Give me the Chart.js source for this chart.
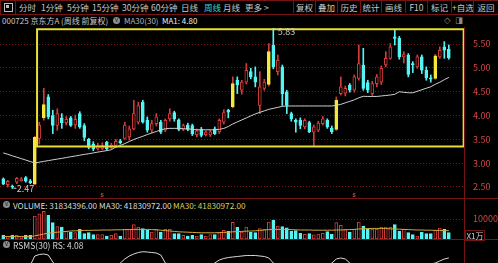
<!DOCTYPE html>
<html>
<head>
<meta charset="utf-8">
<title>京东方A 周线</title>
<script src="https://cdn.jsdelivr.net/npm/chart.js@4.4.1/dist/chart.umd.min.js"></script>
<style>
  html, body { margin: 0; padding: 0; background: #000; }
  body { position: relative; width: 498px; height: 263px; overflow: hidden;
         font-family: "Noto Sans CJK SC", "DejaVu Sans", sans-serif; color: #c8c8c8; }
  .txt { position: absolute; white-space: nowrap; line-height: 1; font-size: 8.5px; }
  .hline { position: absolute; left: 0; width: 498px; height: 1px; background: #761414; }
  .vline { position: absolute; width: 1px; background: #761414; }
  .btn { position: absolute; top: 1px; height: 12px; border-left: 1px solid #761414;
         text-align: center; line-height: 12px; font-size: 8.5px; white-space: nowrap; }
  .knob { position: absolute; width: 7px; height: 7px; border-radius: 50%; background: #8c8c8c;
          color: #222; font-size: 6px; line-height: 6px; text-align: center; }
  canvas { position: absolute; left: 0; }
</style>
</head>
<body>
<div class="hline" style="top:0"></div>
<div class="hline" style="top:14px"></div>
<div class="vline" style="left:0;top:0;height:15px"></div>
<div class="vline" style="left:15px;top:0;height:15px"></div>
<div style="position:absolute;left:4px;top:3px;width:7px;height:7px;border:1px solid #bdbdbd"></div>
<div style="position:absolute;left:6px;top:5px;width:3px;height:3px;background:#bdbdbd"></div>
<div id="menu"></div>

<div class="txt" style="left:2px;top:17px;font-size:8px">000725 京东方A (周线 前复权)</div>
<div class="knob" style="left:113px;top:17px">v</div>
<div class="txt" style="left:124px;top:17px;font-size:8px;color:#b4b4b4">MA30(30)</div>
<div class="txt" style="left:162px;top:17px;font-size:8px;color:#ececec">MA1: 4.80</div>
<div class="txt" style="left:444px;top:16px;color:#8c8c8c;font-family:'DejaVu Sans'">◇</div>
<div class="txt" style="left:455px;top:16px;color:#8c8c8c;font-family:'DejaVu Sans'">◨</div>

<canvas id="priceChart" width="498" height="171" style="top:27px"></canvas>
<div class="hline" style="top:198px"></div>

<div class="knob" style="left:3px;top:201px">v</div>
<div class="txt" style="left:13px;top:200.5px;font-size:8.2px;color:#dadada">VOLUME: 31834396.00</div>
<div class="txt" style="left:99px;top:200.5px;font-size:8.2px;color:#dadada">MA30: 41830972.00</div>
<div class="txt" style="left:173px;top:200.5px;font-size:8.2px;color:#d8cc5c">MA30: 41830972.00</div>
<canvas id="volumeChart" width="498" height="31" style="top:208px"></canvas>
<div class="hline" style="top:239px"></div>
<div class="txt" style="left:465px;top:229.5px;width:18px;height:9px;border:1px solid #761414;text-align:center;line-height:9px;font-size:8px;color:#d0d0d0">X1万</div>

<div class="knob" style="left:3px;top:241px">v</div>
<div class="txt" style="left:13px;top:240.5px;font-size:8.5px;color:#d4d4d4">RSMS(30) RS: 4.08</div>
<canvas id="rsmsChart" width="498" height="32" style="top:248px"></canvas>

<div class="vline" style="left:464px;top:27px;height:236px"></div>

<script>
// Weekly OHLC, one entry per week (100 weeks)
const openPrice = [2.67, 2.55, 2.52, 2.60, 2.63, 2.70, 2.63, 2.56, 3.52, 3.95,
    4.39, 4.00, 3.79, 3.95, 3.85, 3.95, 3.80, 4.04, 3.79, 3.50,
    3.40, 3.30, 3.31, 3.44, 3.33, 3.37, 3.47, 3.52, 3.55, 3.72,
    3.86, 4.28, 3.90, 3.69, 3.83, 3.86, 3.69, 3.93, 4.06, 3.91,
    3.72, 3.80, 3.79, 3.60, 3.71, 3.60, 3.59, 3.72, 3.66, 3.86,
    4.11, 4.18, 4.74, 4.53, 4.70, 4.92, 4.81, 4.21, 4.57, 4.65,
    5.48, 4.92, 5.02, 4.49, 4.04, 3.90, 3.90, 3.76, 3.85, 3.65,
    3.69, 3.83, 3.90, 3.73, 3.71, 4.46, 4.47, 4.64, 4.53, 4.78,
    5.06, 4.69, 4.46, 4.67, 4.70, 5.06, 5.20, 5.65, 5.62, 5.23,
    5.27, 5.09, 5.02, 5.23, 4.95, 4.79, 4.78, 5.23, 5.44, 5.39];
const highPrice = [2.69, 2.64, 2.54, 2.70, 2.70, 2.72, 2.66, 3.56, 3.86, 4.57,
    4.44, 4.11, 4.14, 4.04, 3.98, 3.98, 4.01, 4.08, 3.83, 3.52,
    3.45, 3.42, 3.43, 3.46, 3.42, 3.50, 3.50, 3.86, 3.78, 4.32,
    4.28, 4.32, 3.97, 3.90, 4.04, 3.90, 3.93, 4.14, 4.09, 3.93,
    3.82, 3.84, 3.82, 3.72, 3.75, 3.68, 3.70, 3.76, 3.93, 4.12,
    4.13, 4.81, 4.81, 4.74, 5.09, 4.99, 5.02, 4.92, 4.76, 5.51,
    5.83, 5.27, 5.06, 4.53, 4.07, 3.93, 3.95, 3.93, 3.88, 3.80,
    3.88, 3.98, 3.93, 3.78, 4.39, 4.81, 4.62, 4.67, 4.85, 5.48,
    5.41, 4.74, 4.72, 4.86, 5.04, 5.34, 5.51, 5.80, 5.66, 5.34,
    5.30, 5.13, 5.27, 5.27, 5.02, 4.85, 5.28, 5.44, 5.55, 5.48];
const lowPrice = [2.55, 2.50, 2.47, 2.57, 2.62, 2.60, 2.57, 2.55, 3.40, 3.90,
    3.93, 3.62, 3.69, 3.73, 3.80, 3.77, 3.73, 3.73, 3.47, 3.30,
    3.26, 3.27, 3.28, 3.27, 3.30, 3.33, 3.40, 3.50, 3.48, 3.70,
    3.82, 3.84, 3.65, 3.64, 3.78, 3.62, 3.66, 3.88, 3.88, 3.68,
    3.68, 3.68, 3.58, 3.55, 3.55, 3.57, 3.56, 3.60, 3.62, 3.82,
    3.95, 4.16, 4.46, 4.45, 4.66, 4.77, 4.60, 4.04, 4.53, 4.62,
    4.98, 4.85, 4.21, 4.04, 3.88, 3.65, 3.72, 3.72, 3.64, 3.37,
    3.66, 3.80, 3.73, 3.62, 3.69, 4.43, 4.41, 4.49, 4.49, 4.74,
    4.53, 4.48, 4.42, 4.60, 4.65, 5.02, 5.18, 5.48, 5.18, 5.10,
    4.81, 4.90, 4.99, 4.88, 4.74, 4.70, 4.76, 5.20, 5.20, 5.18];
const closePrice = [2.56, 2.62, 2.50, 2.68, 2.67, 2.62, 2.59, 3.54, 3.80, 4.23,
    3.97, 3.79, 4.04, 3.85, 3.92, 3.79, 3.92, 3.76, 3.54, 3.33,
    3.30, 3.36, 3.37, 3.30, 3.38, 3.46, 3.43, 3.80, 3.72, 4.04,
    4.21, 3.86, 3.69, 3.83, 3.97, 3.65, 3.90, 4.04, 3.93, 3.71,
    3.79, 3.71, 3.62, 3.68, 3.58, 3.65, 3.66, 3.62, 3.90, 4.06,
    4.07, 4.67, 4.64, 4.70, 4.95, 4.81, 4.70, 4.60, 4.70, 5.34,
    5.02, 5.16, 4.46, 4.21, 3.93, 3.86, 3.79, 3.90, 3.66, 3.76,
    3.84, 3.93, 3.76, 3.66, 4.32, 4.60, 4.57, 4.53, 4.81, 5.09,
    4.57, 4.53, 4.67, 4.81, 4.99, 5.20, 5.44, 5.62, 5.23, 5.28,
    4.86, 5.06, 5.23, 4.95, 4.79, 4.76, 5.25, 5.37, 5.37, 5.21];
// MA30 of close (the white line)
const maPrice = [3.215, 3.186, 3.154, 3.125, 3.095, 3.065, 3.034, 3.004, 3.021, 3.038,
    3.053, 3.070, 3.086, 3.101, 3.118, 3.135, 3.150, 3.167, 3.184, 3.198,
    3.215, 3.232, 3.247, 3.264, 3.281, 3.338, 3.369, 3.411, 3.454, 3.496,
    3.532, 3.563, 3.601, 3.633, 3.665, 3.696, 3.722, 3.73, 3.73, 3.73,
    3.72, 3.72, 3.71, 3.70, 3.70, 3.70, 3.70, 3.70, 3.71, 3.728,
    3.770, 3.823, 3.865, 3.907, 3.949, 3.992, 4.034, 4.065, 4.097, 4.129,
    4.150, 4.171, 4.192, 4.198, 4.20, 4.20, 4.20, 4.20, 4.20, 4.20,
    4.20, 4.20, 4.20, 4.20, 4.213, 4.234, 4.266, 4.297, 4.329, 4.371,
    4.403, 4.40, 4.40, 4.40, 4.41, 4.42, 4.43, 4.445, 4.498, 4.487,
    4.477, 4.477, 4.508, 4.540, 4.572, 4.603, 4.656, 4.698, 4.751, 4.80];
// Weeks painted yellow on the original
const yellowWeeks = [7, 9, 51, 59, 74, 96];
// Little red markers under the candles
const markerWeeks = [22, 78];
// Yellow box drawn by the user (week index, price)
const boxWeeks = [7.5, 102.3];
const boxPrices = [3.35, 5.81];
const priceTicks = [2.5, 3.0, 3.5, 4.0, 4.5, 5.0, 5.5];

// Volume in 万 shares, and its MA30
const volume = [1800, 1500, 1800, 1800, 1500, 1800, 1800, 11500, 12600, 13800,
    11800, 8200, 6200, 6000, 3800, 3500, 3200, 4800, 2700, 3200,
    2200, 2200, 2200, 1500, 1800, 2700, 1500, 4800, 4800, 7200,
    6000, 5200, 4300, 3500, 4800, 3500, 4800, 4800, 2700, 2700,
    1800, 1500, 1800, 1500, 2200, 1500, 2200, 2200, 3200, 4300,
    3800, 8300, 5800, 3500, 6000, 3300, 3200, 5200, 4800, 8500,
    9400, 6500, 6200, 5600, 4000, 4200, 2800, 2300, 2700, 2100,
    2500, 2800, 3700, 2300, 8200, 6800, 4800, 3500, 4800, 8500,
    6500, 5200, 4800, 4800, 6000, 6000, 6000, 7200, 3800, 4800,
    3200, 2200, 1500, 3500, 2700, 2700, 4300, 5500, 4800, 3183];
const volumeMa = [1200, 1200, 1200, 1200, 1200, 1200, 1200, 1600, 2000, 2500,
    2900, 3200, 3400, 3600, 3800, 4000, 4100, 4200, 4300, 4300,
    4400, 4400, 4500, 4500, 4500, 4600, 4600, 4700, 4700, 4800,
    4800, 4800, 4800, 4700, 4600, 4400, 4200, 4000, 3800, 3600,
    3500, 3400, 3300, 3200, 3100, 3100, 3100, 3100, 3200, 3300,
    3400, 3600, 3700, 3800, 3900, 4000, 4100, 4300, 4500, 4700,
    4800, 4800, 4800, 4800, 4700, 4600, 4500, 4500, 4500, 4400,
    4400, 4400, 4400, 4400, 4500, 4500, 4600, 4700, 4800, 5000,
    5100, 5200, 5300, 5300, 5300, 5200, 5100, 5000, 4900, 4800,
    4700, 4600, 4500, 4500, 4400, 4400, 4300, 4300, 4200, 4183];
const volumeTicks = [10000];

// RSMS line (only its top part shows in the window)
const rsms = [3.0, 3.1, 3.0, 3.2, 3.3, 3.4, 4.6, 7.5, 7.97, 8.13,
    7.81, 5.63, 4.0, 3.6, 3.3, 3.1, 3.0, 2.9, 2.8, 2.8,
    2.9, 3.0, 3.2, 3.5, 3.9, 4.4, 5.31, 6.56, 7.5, 8.13,
    8.59, 8.84, 8.75, 8.59, 8.44, 7.81, 5.31, 4.2, 3.8, 3.5,
    3.3, 3.2, 3.2, 3.3, 3.6, 4.0, 4.6, 5.31, 6.25, 6.72,
    7.03, 7.19, 7.34, 7.5, 7.66, 7.66, 7.66, 7.5, 7.34, 6.88,
    5.31, 4.3, 3.6, 3.2, 2.9, 2.7, 2.6, 2.6, 2.7, 2.9,
    3.3, 3.8, 4.5, 5.31, 6.56, 6.88, 6.56, 5.31, 4.4, 3.8,
    3.4, 3.1, 2.9, 2.8, 2.7, 2.7, 2.8, 2.9, 3.0, 3.1,
    3.3, 3.5, 3.8, 4.2, 4.6, 5.0, 5.31, 5.94, 6.56, 6.88];

const RED = '#d43c3c';
const CYAN = '#54f4f4';
const YELLOW = '#f4e83c';
const FONT = '"Noto Sans CJK SC", "DejaVu Sans", sans-serif';

// Top menu
const menuItems = [['分时', 19], ['1分钟', 41], ['5分钟', 67], ['15分钟', 92], ['30分钟', 122],
    ['60分钟', 151], ['日线', 181], ['周线', 204], ['月线', 223], ['更多 >', 245]];
const buttons = ['复权', '叠加', '历史', '统计', '画线', 'F10', '标记', '+自选', '返回'];
const buttonEdges = [293, 315, 337, 360, 381, 405, 427, 451, 473, 498];
const menu = document.getElementById('menu');
menuItems.forEach(([label, left]) => {
    const d = document.createElement('div');
    d.className = 'txt';
    d.style.left = left + 'px';
    d.style.top = '2.5px';
    d.style.color = label === '周线' ? '#3ed6d6' : '#c8c8c8';
    d.innerText = label;
    menu.appendChild(d);
});
buttons.forEach((label, i) => {
    const d = document.createElement('div');
    d.className = 'btn';
    d.style.left = buttonEdges[i] + 'px';
    d.style.width = (buttonEdges[i + 1] - buttonEdges[i] - 1) + 'px';
    d.innerText = label;
    menu.appendChild(d);
});

const weeks = openPrice.map((_, i) => i);
const isUp = i => yellowWeeks.includes(i) || closePrice[i] >= openPrice[i];

// Same x mapping for all three panels
const xScale = { type: 'linear', min: -0.733, max: 102.378, offset: false, display: false };

function rightAxis(min, max, ticksAt, format) {
    return {
        position: 'right', min, max,
        afterFit: s => { s.width = 34; s.paddingTop = 0; s.paddingBottom = 0; },
        afterBuildTicks: s => { s.ticks = ticksAt.map(v => ({ value: v })); },
        ticks: { display: !!format, color: '#d04646', padding: 9, font: { size: 9, family: FONT },
                 callback: v => format ? format(v) : '' },
        grid: { display: ticksAt.length > 0, color: 'rgba(150,24,24,0.85)', drawTicks: false },
        border: { display: false, dash: [1, 2] }
    };
}

const baseOptions = {
    responsive: false,
    animation: false,
    layout: { padding: 0 },
    plugins: { legend: { display: false }, tooltip: { enabled: false } }
};

// Box, high/low labels and markers on top of the candles
const priceMarks = {
    id: 'priceMarks',
    afterDatasetsDraw(chart) {
        const { ctx, scales: { x, y }, chartArea } = chart;
        ctx.save();
        ctx.strokeStyle = '#e8de34';
        ctx.lineWidth = 2;
        const bx0 = x.getPixelForValue(boxWeeks[0]);
        const bx1 = x.getPixelForValue(boxWeeks[1]);
        const by0 = y.getPixelForValue(boxPrices[1]);
        const by1 = y.getPixelForValue(boxPrices[0]);
        ctx.strokeRect(bx0, by0, bx1 - bx0, by1 - by0);

        const hi = highPrice.indexOf(Math.max(...highPrice));
        const lo = lowPrice.indexOf(Math.min(...lowPrice));
        ctx.strokeStyle = '#c8c8c8';
        ctx.fillStyle = '#c8c8c8';
        ctx.lineWidth = 1;
        ctx.font = '9px ' + FONT;
        ctx.textBaseline = 'middle';
        const hx = x.getPixelForValue(hi), hy = y.getPixelForValue(highPrice[hi]);
        ctx.beginPath();
        ctx.moveTo(hx + 0.5, hy + 0.5);
        ctx.lineTo(hx + 4, hy + 1.5);
        ctx.stroke();
        ctx.fillText(highPrice[hi].toFixed(2), hx + 4.5, hy + 3);
        const lx = x.getPixelForValue(lo), ly = y.getPixelForValue(lowPrice[lo]);
        ctx.beginPath();
        ctx.moveTo(lx + 0.5, ly - 0.5);
        ctx.lineTo(lx + 4, ly);
        ctx.stroke();
        ctx.fillText(lowPrice[lo].toFixed(2), lx + 4.5, ly);

        ctx.fillStyle = RED;
        ctx.font = 'bold 7px ' + FONT;
        ctx.textAlign = 'center';
        markerWeeks.forEach(w => ctx.fillText('s', x.getPixelForValue(w), chartArea.bottom - 4));
        ctx.restore();
    }
};

new Chart(document.getElementById('priceChart'), {
    type: 'bar',
    data: {
        datasets: [{
            type: 'line',
            data: weeks.map(i => ({ x: i, y: maPrice[i] })),
            borderColor: '#cfcfcf',
            borderWidth: 1,
            pointRadius: 0,
            tension: 0
        }, {
            // candle bodies
            data: weeks.map(i => ({ x: i, y: [openPrice[i], closePrice[i]] })),
            backgroundColor: weeks.map(i => yellowWeeks.includes(i) ? YELLOW : isUp(i) ? '#000' : CYAN),
            borderColor: weeks.map(i => yellowWeeks.includes(i) ? YELLOW : isUp(i) ? RED : CYAN),
            borderWidth: 1,
            borderSkipped: false,
            barThickness: 3,
            grouped: false
        }, {
            // wicks
            data: weeks.map(i => ({ x: i, y: [lowPrice[i], highPrice[i]] })),
            backgroundColor: weeks.map(i => isUp(i) ? RED : CYAN),
            borderWidth: 0,
            barThickness: 1,
            grouped: false
        }]
    },
    options: {
        ...baseOptions,
        scales: {
            x: xScale,
            y: rightAxis(2.269, 5.857, priceTicks, v => (+v).toFixed(2))
        }
    },
    plugins: [priceMarks]
});

new Chart(document.getElementById('volumeChart'), {
    type: 'bar',
    data: {
        datasets: [{
            type: 'line',
            data: weeks.map(i => ({ x: i, y: volumeMa[i] })),
            borderColor: '#d2a83c',
            borderWidth: 1,
            pointRadius: 0,
            tension: 0
        }, {
            data: weeks.map(i => ({ x: i, y: volume[i] })),
            backgroundColor: weeks.map(i => isUp(i) ? '#000' : CYAN),
            borderColor: weeks.map(i => isUp(i) ? RED : CYAN),
            borderWidth: 1,
            borderSkipped: false,
            barThickness: 3,
            grouped: false
        }]
    },
    options: {
        ...baseOptions,
        scales: {
            x: xScale,
            y: rightAxis(0, 15500, volumeTicks, v => String(v))
        }
    }
});

new Chart(document.getElementById('rsmsChart'), {
    type: 'line',
    data: {
        datasets: [{
            data: weeks.map(i => ({ x: i, y: rsms[i] })),
            borderColor: '#d8d8d8',
            borderWidth: 1,
            pointRadius: 0,
            tension: 0
        }]
    },
    options: {
        ...baseOptions,
        scales: {
            x: xScale,
            y: rightAxis(0, 10, [], null)
        }
    }
});
</script>
</body>
</html>
